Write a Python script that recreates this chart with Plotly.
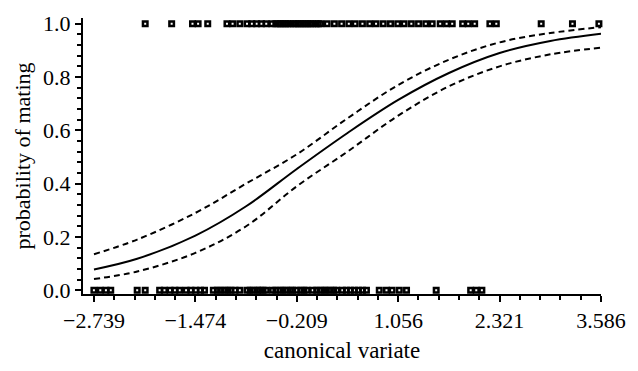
import plotly.graph_objects as go

# fitted curve and confidence bands
curve_x = [-2.739, -2.2, -1.474, -0.841, -0.209, 0.424, 1.056, 1.689, 2.321, 2.954, 3.586]
fit_p   = [0.078, 0.118, 0.205, 0.315, 0.455, 0.59, 0.714, 0.815, 0.89, 0.935, 0.962]
upper_p = [0.135, 0.19, 0.29, 0.40, 0.51, 0.645, 0.77, 0.865, 0.93, 0.965, 0.987]
lower_p = [0.042, 0.07, 0.14, 0.24, 0.39, 0.52, 0.655, 0.765, 0.84, 0.885, 0.91]

# observed matings (y = 1)
mated_x = [-2.10, -1.77, -1.51, -1.44, -1.32, -1.08, -1.01, -0.92, -0.83,
           -0.77, -0.71, -0.65, -0.59, -0.52,
           -0.47, -0.44, -0.41, -0.38, -0.35, -0.32, -0.29, -0.25, -0.22, -0.19,
           -0.16, -0.13, -0.10, -0.07, -0.04, -0.01, 0.03, 0.06, 0.09,
           0.17, 0.26, 0.35, 0.44, 0.52, 0.61, 0.70, 0.78, 0.87, 0.96, 1.05,
           1.13, 1.22, 1.31, 1.40, 1.48,
           1.58, 1.66, 1.73, 1.86, 1.93, 2.01, 2.20, 2.28, 2.84, 3.23, 3.56]
# non-matings (y = 0)
unmated_x = [-2.74, -2.66, -2.59, -2.53, -2.20, -2.10,
             -1.92, -1.86, -1.79, -1.73, -1.67, -1.59, -1.53, -1.47, -1.41, -1.36,
             -1.25, -1.20, -1.16, -1.11, -1.07, -1.03, -0.98, -0.92, -0.83, -0.79,
             -0.75, -0.70, -0.67, -0.63, -0.59, -0.51, -0.47, -0.42, -0.38, -0.34,
             -0.29, -0.26, -0.21,
             -0.16, -0.12, -0.08, -0.01, 0.04, 0.08, 0.13, 0.16, 0.21, 0.25, 0.29,
             0.36, 0.41, 0.46, 0.51, 0.56, 0.61, 0.66,
             0.82, 0.91, 0.98, 1.07, 1.16, 1.53, 1.96, 2.03, 2.10]

x_tick0 = -2.739
x_dtick = 1.265

fig = go.Figure()
line_col = "black"
fig.add_trace(go.Scatter(x=curve_x, y=upper_p, mode="lines", line=dict(color=line_col, width=2, dash="6px,4px", shape="spline"), hoverinfo="skip"))
fig.add_trace(go.Scatter(x=curve_x, y=fit_p, mode="lines", line=dict(color=line_col, width=2, shape="spline"), hoverinfo="skip"))
fig.add_trace(go.Scatter(x=curve_x, y=lower_p, mode="lines", line=dict(color=line_col, width=2, dash="6px,4px", shape="spline"), hoverinfo="skip"))

mk = dict(symbol="square-open", size=4.5, color="black", line=dict(width=2.5, color="black"))
fig.add_trace(go.Scatter(x=mated_x, y=[1.0] * len(mated_x), mode="markers", marker=mk, cliponaxis=False))
fig.add_trace(go.Scatter(x=unmated_x, y=[0.0] * len(unmated_x), mode="markers", marker=mk, cliponaxis=False))

font = dict(family="Liberation Serif", size=22, color="black")
fig.update_layout(
    width=638, height=371,
    margin=dict(l=83, r=36, t=12, b=69),
    paper_bgcolor="white", plot_bgcolor="white",
    showlegend=False,
    font=font,
    xaxis=dict(
        range=[-2.876, 3.586],
        tickmode="linear", tick0=x_tick0, dtick=x_dtick, tickformat=".3f",
        showline=True, linecolor="black", linewidth=2,
        ticks="outside", ticklen=6, tickwidth=2, tickcolor="black",
        minor=dict(tick0=x_tick0, dtick=x_dtick / 5, ticks="outside", ticklen=4, tickwidth=2, tickcolor="black"),
        showgrid=False, zeroline=False,
        title=dict(text="canonical variate", font=dict(family="Liberation Serif", size=23, color="black"), standoff=9),
        tickfont=font,
    ),
    yaxis=dict(
        range=[-0.0143, 1.0214],
        tickmode="linear", tick0=0, dtick=0.2, tickformat=".1f",
        showline=True, linecolor="black", linewidth=2,
        ticks="outside", ticklen=6, tickwidth=2, tickcolor="black",
        minor=dict(tick0=0, dtick=0.04, ticks="outside", ticklen=4, tickwidth=2, tickcolor="black"),
        showgrid=False, zeroline=False,
        title=dict(text="probability of mating", font=font, standoff=6),
        tickfont=font,
    ),
)

fig.write_html("out.html")
